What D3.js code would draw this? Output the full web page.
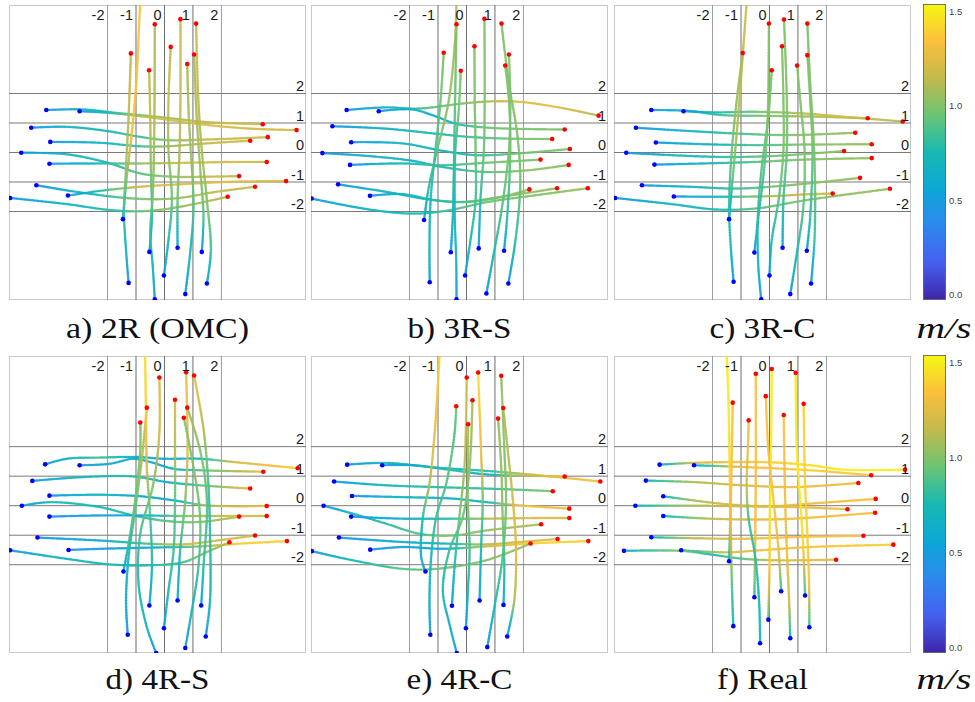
<!DOCTYPE html>
<html><head><meta charset="utf-8">
<script src="https://cdn.jsdelivr.net/npm/d3@7"></script>
<style>body{margin:0;background:#fff}svg{display:block}</style>
</head><body><svg id="chart" width="975" height="702"></svg>
<script>
// ---------------- data ----------------
const panelTitles = ["a) 2R (OMC)", "b) 3R-S", "c) 3R-C", "d) 4R-S", "e) 4R-C", "f) Real"];
const gridValues = [-2, -1, 0, 1, 2];
const colorTicks = [0.0, 0.5, 1.0, 1.5];
const unitLabel = "m/s";
// each trajectory: [x (m), y (m), speed (m/s)] waypoints, start -> end
const trajA = [
 [[-4.15,1.44,0.45],[-2.84,1.46,0.7],[-1.67,1.34,0.8],[-0.04,1.19,1.05],[1.49,1.03,1.15],[3.45,0.96,1.2]],
 [[-2.98,1.40,0.45],[-1.91,1.34,0.8],[-0.5,1.19,1.2],[1.25,0.96,1.25],[3.01,0.81,1.2],[4.64,0.76,1.2]],
 [[-4.68,0.84,0.45],[-3.43,0.87,0.7],[-2.02,0.73,0.75],[-0.85,0.53,0.85],[0.08,0.42,1.0],[1.49,0.44,1.15],[3.63,0.52,1.2]],
 [[-4.01,0.36,0.45],[-2.26,0.33,0.7],[-0.85,0.21,0.85],[0.08,0.21,1.05],[1.49,0.31,1.15],[3.01,0.40,1.2]],
 [[-5.03,-0.01,0.45],[-3.43,-0.06,0.7],[-1.91,-0.37,0.75],[-0.85,-0.71,0.9],[0.32,-0.82,1.05],[1.49,-0.82,1.15],[2.62,-0.80,1.15]],
 [[-4.04,-0.38,0.45],[-2.26,-0.37,0.75],[-0.85,-0.37,1.05],[0.67,-0.35,1.2],[2.42,-0.32,1.2],[3.59,-0.32,1.15]],
 [[-4.50,-1.11,0.45],[-2.84,-1.37,0.7],[-1.09,-1.56,0.95],[0.32,-1.56,1.05],[1.84,-1.33,1.15],[3.18,-1.16,1.15]],
 [[-3.39,-1.46,0.45],[-2.26,-1.30,0.8],[-0.85,-1.16,1.2],[0.67,-1.07,1.25],[2.42,-0.99,1.25],[4.27,-0.97,1.2]],
 [[-5.42,-1.54,0.45],[-3.43,-1.75,0.7],[-1.91,-1.95,0.8],[-0.74,-1.99,0.95],[0.43,-1.86,1.05],[2.22,-1.50,1.15]],
 [[-1.46,-2.26,0.5],[-1.35,-1.05,0.95],[-1.15,0.64,1.3],[-0.99,2.34,1.35],[-0.85,5.05,1.35],[-0.80,5.5,1.35]],
 [[-1.26,-4.42,0.45],[-1.35,-3.31,0.7],[-1.42,-2.07,0.85],[-1.35,-0.49,1.05],[-1.26,1.21,1.15],[-1.18,3.36,1.15]],
 [[-0.53,-3.37,0.45],[-0.44,-2.18,0.75],[-0.48,-0.49,1.0],[-0.5,1.21,1.15],[-0.54,2.79,1.15]],
 [[-0.34,-4.98,0.45],[-0.41,-3.88,0.7],[-0.5,-2.75,0.8],[-0.41,-1.39,1.0],[-0.36,0.64,1.1],[-0.34,4.35,1.1]],
 [[-0.02,-4.17,0.5],[0.14,-2.97,0.75],[0.26,-1.62,0.95],[0.14,0.08,1.05],[0.14,1.77,1.15],[0.22,3.58,1.15]],
 [[0.46,-3.23,0.6],[0.46,-1.62,0.95],[0.53,0.08,1.1],[0.56,1.77,1.15],[0.56,4.52,1.15]],
 [[0.73,-4.80,0.45],[0.90,-3.42,0.7],[1.02,-1.84,0.9],[0.92,0.08,1.05],[0.84,1.55,1.1],[0.80,3.0,1.1]],
 [[1.31,-3.37,0.5],[1.37,-2.18,0.9],[1.25,-0.49,1.05],[1.13,1.21,1.1],[1.04,3.32,1.1]],
 [[1.49,-4.44,0.45],[1.63,-3.31,0.85],[1.49,-1.62,1.0],[1.31,0.08,1.1],[1.19,1.77,1.15],[1.11,4.37,1.15]]
];
const trajB = [
 [[-4.21,1.44,0.45],[-2.84,1.53,0.7],[-1.67,1.49,0.85],[-0.15,1.66,1.0],[0.78,1.73,1.1],[1.84,1.72,1.25],[3.12,1.55,1.25],[4.64,1.25,1.1]],
 [[-3.08,1.40,0.45],[-1.91,1.46,0.7],[-1.09,1.23,0.6],[-0.39,0.98,0.75],[0.78,0.84,0.95],[3.45,0.78,1.0]],
 [[-4.71,0.89,0.45],[-2.84,0.81,0.7],[-1.09,0.64,0.75],[0.08,0.53,0.85],[1.49,0.47,0.95],[3.01,0.46,1.0]],
 [[-4.05,0.35,0.45],[-2.26,0.31,0.75],[-0.85,0.06,0.65],[0.32,-0.09,0.8],[1.84,-0.03,0.95],[3.63,0.12,1.0]],
 [[-5.06,-0.02,0.45],[-3.43,-0.12,0.7],[-1.91,-0.28,0.65],[-0.85,-0.49,0.75],[0.67,-0.66,0.9],[2.19,-0.60,1.05],[3.59,-0.42,1.0]],
 [[-4.09,-0.42,0.45],[-2.26,-0.37,0.75],[-0.85,-0.43,0.85],[0.67,-0.35,0.95],[2.60,-0.24,1.0]],
 [[-4.51,-1.08,0.45],[-2.84,-1.33,0.7],[-1.32,-1.59,0.75],[-0.15,-1.68,0.9],[1.25,-1.50,1.0],[3.18,-1.21,1.05]],
 [[-3.39,-1.47,0.45],[-2.26,-1.41,0.7],[-1.09,-1.62,0.8],[0.08,-1.67,0.9],[1.25,-1.50,1.0],[2.21,-1.25,1.05]],
 [[-5.44,-1.56,0.45],[-3.43,-1.93,0.7],[-1.91,-2.07,0.75],[-0.74,-1.98,0.85],[0.78,-1.67,0.95],[2.42,-1.45,1.0],[4.26,-1.21,1.05]],
 [[-1.49,-2.29,0.5],[-1.32,-1.16,0.8],[-1.03,0.08,0.95],[-0.62,1.77,1.05],[-0.39,4.0,1.1],[-0.35,5.4,1.1]],
 [[-1.29,-4.40,0.5],[-1.30,-3.31,0.7],[-1.26,-1.62,0.75],[-1.09,0.08,0.85],[-0.91,1.77,0.95],[-0.80,3.38,1.0]],
 [[-0.55,-3.38,0.5],[-0.48,-2.18,0.7],[-0.44,-0.49,0.75],[-0.41,1.21,0.9],[-0.35,4.35,1.0]],
 [[-0.35,-4.98,0.45],[-0.36,-3.65,0.7],[-0.41,-2.18,0.75],[-0.39,0.08,0.85],[-0.27,1.44,0.95],[-0.20,2.77,1.0]],
 [[-0.05,-4.17,0.5],[0.14,-2.97,0.75],[0.32,-1.62,0.85],[0.32,0.08,0.95],[0.29,1.77,1.0],[0.28,3.60,1.0]],
 [[0.43,-3.25,0.5],[0.49,-1.62,0.8],[0.61,0.08,0.95],[0.64,1.77,1.0],[0.63,4.53,1.0]],
 [[0.70,-4.78,0.45],[0.96,-3.42,0.75],[1.25,-1.84,0.9],[1.49,0.08,1.0],[1.54,1.77,1.0],[1.49,3.32,1.0]],
 [[1.32,-3.33,0.5],[1.43,-2.18,0.8],[1.54,0.08,0.95],[1.49,1.77,1.0],[1.36,2.95,1.0]],
 [[1.47,-4.44,0.45],[1.72,-2.97,0.8],[1.89,-1.05,0.95],[1.78,0.64,1.0],[1.49,2.34,1.0],[1.23,4.37,1.0]]
];
const trajC = [
 [[-4.15,1.44,0.45],[-2.84,1.41,0.7],[-1.67,1.27,0.85],[0.08,1.24,1.0],[1.84,1.21,1.1],[3.45,1.16,1.1]],
 [[-3.02,1.40,0.45],[-1.91,1.36,0.75],[-0.5,1.38,0.95],[1.25,1.32,1.15],[2.65,1.21,1.2],[4.68,1.05,1.1]],
 [[-4.69,0.84,0.45],[-2.84,0.73,0.7],[-1.09,0.64,0.85],[0.67,0.59,1.0],[3.01,0.67,1.05]],
 [[-3.99,0.34,0.45],[-2.26,0.28,0.7],[-0.5,0.25,0.85],[1.25,0.27,1.0],[3.59,0.28,1.05]],
 [[-5.03,-0.01,0.45],[-3.43,-0.09,0.7],[-1.67,-0.15,0.8],[0.08,-0.12,0.95],[2.62,0.05,1.05]],
 [[-4.04,-0.41,0.45],[-2.26,-0.37,0.7],[-0.5,-0.32,0.9],[1.25,-0.24,1.0],[3.59,-0.19,1.05]],
 [[-4.48,-1.11,0.45],[-2.84,-1.16,0.7],[-1.09,-1.22,0.85],[0.67,-1.11,1.0],[3.18,-0.86,1.05]],
 [[-3.36,-1.49,0.45],[-1.67,-1.50,0.75],[0.08,-1.48,1.1],[1.25,-1.42,1.2],[2.22,-1.39,1.15]],
 [[-5.42,-1.54,0.45],[-3.43,-1.75,0.7],[-1.91,-1.93,0.75],[-0.5,-1.90,0.9],[1.25,-1.62,1.0],[4.23,-1.23,1.05]],
 [[-1.42,-2.26,0.5],[-1.32,-1.16,0.85],[-1.15,0.64,1.1],[-0.97,2.90,1.15],[-0.80,5.05,1.2],[-0.76,5.4,1.2]],
 [[-1.26,-4.38,0.5],[-1.35,-3.31,0.7],[-1.42,-1.84,0.8],[-1.32,0.08,0.95],[-1.15,1.77,1.05],[-0.94,3.37,1.1]],
 [[-0.53,-3.39,0.5],[-0.39,-2.18,0.75],[-0.18,-0.49,0.9],[-0.06,1.21,1.0],[-0.02,4.37,1.0]],
 [[-0.29,-4.98,0.45],[-0.39,-3.88,0.7],[-0.41,-2.18,0.8],[-0.27,-0.49,0.9],[-0.04,1.21,1.0],[0.08,2.79,1.0]],
 [[0.0,-4.17,0.5],[0.08,-2.97,0.75],[0.32,-1.62,0.9],[0.49,0.08,1.0],[0.49,1.77,1.0],[0.44,3.60,1.0]],
 [[0.46,-3.23,0.55],[0.49,-1.62,0.85],[0.61,0.08,0.95],[0.61,1.77,1.0],[0.51,4.51,1.0]],
 [[0.73,-4.80,0.45],[0.96,-3.42,0.75],[1.19,-1.84,0.9],[1.23,0.08,1.0],[1.08,1.77,1.0],[0.97,2.95,1.0]],
 [[1.31,-3.33,0.5],[1.43,-2.18,0.8],[1.51,0.08,0.95],[1.43,1.77,1.0],[1.33,3.30,1.0]],
 [[1.46,-4.44,0.45],[1.58,-2.97,0.8],[1.60,-1.05,0.95],[1.54,0.64,1.0],[1.43,2.34,1.0],[1.33,4.37,1.0]]
];
const trajD = [
 [[-4.19,1.40,0.45],[-3.43,1.59,0.65],[-2.26,1.63,0.85],[-0.97,1.65,0.6],[-0.04,1.59,0.55],[1.25,1.59,0.65],[2.42,1.48,1.2],[4.68,1.27,1.4]],
 [[-2.98,1.37,0.45],[-1.91,1.42,0.6],[-1.09,1.59,0.6],[-0.50,1.48,0.55],[0.32,1.25,0.6],[1.25,1.20,0.9],[3.47,1.15,1.25]],
 [[-4.64,0.84,0.45],[-2.84,0.97,0.75],[-1.09,0.99,0.8],[0.08,0.80,0.6],[1.25,0.69,0.9],[3.01,0.58,1.25]],
 [[-4.04,0.34,0.45],[-2.26,0.37,0.7],[-0.85,0.32,0.55],[0.32,0.18,0.6],[1.49,0.01,1.1],[3.59,-0.01,1.3]],
 [[-5.01,0,0.45],[-4.01,0.12,0.75],[-2.26,-0.05,0.75],[-1.09,-0.33,0.8],[0.08,-0.52,0.9],[1.25,-0.55,1.0],[2.62,-0.37,1.15]],
 [[-4.04,-0.37,0.45],[-2.26,-0.33,0.55],[-0.85,-0.33,0.55],[0.67,-0.35,1.0],[2.42,-0.35,1.2],[3.59,-0.35,1.2]],
 [[-4.46,-1.08,0.45],[-2.26,-1.18,0.6],[-0.5,-1.29,0.9],[0.67,-1.31,1.2],[1.84,-1.18,1.2],[3.18,-1.01,1.2]],
 [[-3.37,-1.50,0.45],[-2.26,-1.46,0.5],[-0.5,-1.42,0.6],[1.25,-1.38,1.0],[2.57,-1.29,1.4],[4.30,-1.20,1.4]],
 [[-5.42,-1.51,0.45],[-3.43,-1.80,0.7],[-1.91,-1.99,0.75],[-0.5,-2.02,0.8],[0.67,-1.91,0.85],[1.49,-1.57,1.0],[2.28,-1.24,1.1]],
 [[-1.44,-2.23,0.5],[-1.26,-1.29,0.85],[-1.03,0.18,0.95],[-0.85,1.88,1.0],[-0.85,2.82,1.0]],
 [[-1.29,-4.37,0.45],[-1.35,-3.21,0.6],[-1.26,-1.74,0.75],[-1.03,-0.16,0.9],[-0.80,1.54,1.1],[-0.62,3.32,1.2]],
 [[-0.53,-3.38,0.5],[-0.44,-2.08,0.75],[-0.50,-0.38,0.85],[-0.62,1.31,1.2],[-0.65,3.23,1.4],[-0.68,5.04,1.45],[-0.69,5.5,1.45]],
 [[-0.29,-4.99,0.45],[-0.62,-4.11,0.7],[-0.91,-2.64,0.75],[-0.85,-0.95,0.85],[-0.39,0.75,1.0],[-0.18,2.44,1.2],[-0.18,4.34,1.25]],
 [[-0.02,-4.15,0.5],[0.14,-2.87,0.75],[0.32,-1.51,0.85],[0.37,0.18,0.9],[0.37,1.88,1.1],[0.37,3.59,1.2]],
 [[0.46,-3.21,0.55],[0.55,-1.51,0.8],[0.73,0.18,1.0],[0.81,1.88,1.25],[0.76,4.52,1.3]],
 [[0.73,-4.82,0.45],[0.96,-3.55,0.7],[1.19,-2.08,0.85],[1.25,-0.38,0.95],[1.02,1.31,1.0],[0.68,2.98,1.0]],
 [[1.29,-3.38,0.55],[1.37,-2.08,0.8],[1.49,0.18,0.9],[1.25,1.88,1.0],[0.80,3.32,1.1]],
 [[1.45,-4.43,0.45],[1.60,-3.21,0.75],[1.60,-0.95,0.8],[1.54,0.75,0.85],[1.37,2.61,1.1],[1.04,4.41,1.3]]
];
const trajE = [
 [[-4.19,1.39,0.45],[-2.82,1.45,0.7],[-1.06,1.29,0.75],[0.69,1.18,0.75],[2.21,1.06,1.2],[4.70,0.82,1.35]],
 [[-2.96,1.37,0.45],[-1.88,1.37,0.6],[-0.48,1.20,0.8],[0.69,1.06,0.6],[1.86,1.02,1.1],[3.45,0.99,1.3]],
 [[-4.65,0.82,0.45],[-2.82,0.69,0.75],[-1.06,0.63,0.8],[0.69,0.58,0.8],[1.86,0.54,0.9],[3.03,0.49,1.0]],
 [[-4.02,0.33,0.45],[-2.23,0.29,0.7],[-0.48,0.24,0.65],[0.69,0.12,0.7],[1.86,0.01,1.3],[3.61,-0.10,1.3]],
 [[-5.02,0,0.45],[-3.99,-0.27,0.7],[-2.82,-0.61,0.8],[-1.65,-0.95,0.9],[-0.48,-1.01,1.0],[0.69,-0.84,1.05],[2.62,-0.63,1.1]],
 [[-4.05,-0.37,0.45],[-2.23,-0.44,0.65],[-0.48,-0.44,0.8],[0.69,-0.44,1.1],[2.21,-0.42,1.25],[3.61,-0.42,1.2]],
 [[-4.48,-1.08,0.45],[-2.23,-1.23,0.6],[-0.48,-1.29,0.75],[0.69,-1.31,1.1],[1.86,-1.23,1.2],[3.20,-1.13,1.25]],
 [[-3.38,-1.49,0.45],[-2.23,-1.40,0.5],[-0.83,-1.46,0.55],[0.69,-1.38,1.2],[2.25,-1.28,1.4],[4.28,-1.20,1.4]],
 [[-5.43,-1.54,0.45],[-3.99,-1.85,0.75],[-2.23,-2.14,0.9],[-1.06,-2.14,0.95],[0.69,-1.85,1.0],[2.25,-1.28,1.05]],
 [[-1.44,-2.23,0.45],[-1.59,-1.74,0.6],[-1.53,-0.38,0.8],[-1.30,0.75,1.1],[-1.12,2.44,1.3],[-0.95,5.04,1.4],[-0.93,5.5,1.4]],
 [[-1.27,-4.37,0.45],[-1.30,-3.21,0.65],[-1.24,-1.74,0.75],[-1.06,-0.38,0.85],[-0.71,0.75,0.9],[-0.42,2.44,0.9],[-0.36,3.37,0.95]],
 [[-0.34,-4.99,0.5],[-0.60,-4.0,0.65],[-0.83,-2.87,0.75],[-0.60,-1.51,0.85],[-0.13,-0.38,0.95],[0.11,1.31,1.05],[0.21,3.57,1.1]],
 [[-0.51,-3.39,0.5],[-0.42,-2.08,0.75],[-0.25,-0.38,0.95],[-0.07,1.31,1.1],[0.01,4.34,1.25]],
 [[-0.02,-4.15,0.5],[0.05,-2.87,0.75],[0.11,-1.51,0.85],[0.05,0.18,1.0],[0.06,2.76,1.1]],
 [[0.46,-3.21,0.5],[0.51,-1.51,0.75],[0.57,0.18,0.95],[0.51,1.88,1.3],[0.41,4.51,1.45]],
 [[0.73,-4.79,0.45],[0.98,-3.44,0.75],[1.27,-1.74,0.9],[1.39,0.18,1.0],[1.33,1.88,1.0],[1.22,4.40,1.05]],
 [[1.30,-3.36,0.5],[1.33,-2.08,0.8],[1.27,-0.38,1.0],[1.22,1.31,1.05],[1.11,2.95,1.05]],
 [[1.43,-4.43,0.45],[1.68,-3.21,1.1],[1.74,-1.51,1.25],[1.63,0.18,1.2],[1.45,1.88,1.1],[1.29,3.31,1.1]]
];
const trajF = [
 [[-3.86,1.39,0.6],[-2.67,1.45,1.2],[-0.91,1.48,1.35],[0.26,1.46,1.4],[1.43,1.37,1.45],[2.60,1.22,1.5],[4.76,1.22,1.5]],
 [[-2.65,1.37,0.6],[-0.91,1.31,1.3],[1.43,1.20,1.4],[3.57,1.03,1.35]],
 [[-4.34,0.85,0.7],[-2.67,0.80,1.1],[-0.91,0.69,1.2],[0.84,0.63,1.3],[3.12,0.77,1.3]],
 [[-3.73,0.32,0.7],[-2.67,0.18,1.1],[-1.50,0.05,1.2],[0.02,-0.02,1.25],[1.43,0.07,1.3],[3.73,0.23,1.35]],
 [[-4.71,0,0.7],[-2.67,0,1.1],[-0.91,-0.02,1.2],[0.96,-0.05,1.25],[2.74,-0.12,1.3]],
 [[-3.73,-0.35,0.7],[-2.08,-0.44,1.15],[-0.33,-0.47,1.25],[0.84,-0.44,1.3],[3.71,-0.24,1.35]],
 [[-4.15,-1.07,0.7],[-2.67,-1.10,1.15],[-0.91,-1.12,1.3],[0.96,-1.06,1.35],[3.30,-1.02,1.35]],
 [[-3.10,-1.51,0.7],[-1.50,-1.58,1.2],[-0.33,-1.51,1.3],[1.43,-1.40,1.35],[4.35,-1.32,1.4]],
 [[-5.11,-1.53,0.7],[-3.10,-1.53,1.0],[-2.08,-1.65,0.75],[-0.91,-1.80,0.9],[0.26,-1.85,1.2],[2.34,-1.83,1.25]],
 [[-1.42,-1.88,0.7],[-1.38,-0.38,1.3],[-1.40,1.31,1.45],[-1.44,3.57,1.5],[-1.50,5.04,1.5],[-1.52,5.5,1.5]],
 [[-1.27,-4.08,0.7],[-1.32,-2.64,0.9],[-1.36,-0.38,1.3],[-1.32,1.88,1.35],[-1.29,3.49,1.35]],
 [[-0.53,-3.10,0.8],[-0.50,-1.05,1.3],[-0.48,1.31,1.35],[-0.48,4.47,1.35]],
 [[-0.33,-4.66,0.7],[-0.36,-3.32,0.75],[-0.50,-1.74,0.8],[-0.74,-0.38,0.85],[-0.80,0.75,1.2],[-0.76,1.88,1.3],[-0.73,2.89,1.3]],
 [[-0.04,-3.86,0.9],[0,-2.08,1.4],[0.02,0.18,1.5],[0.06,2.44,1.5],[0.08,4.63,1.5]],
 [[0.41,-2.90,0.8],[0.32,-1.51,1.3],[0.14,0.18,1.35],[-0.04,1.88,1.35],[-0.13,3.71,1.35]],
 [[0.73,-4.49,0.7],[0.69,-3.21,1.2],[0.61,-1.51,1.3],[0.55,0.18,1.3],[0.50,3.07,1.35]],
 [[1.25,-3.04,0.8],[1.19,-1.51,1.4],[1.08,0.18,1.5],[0.96,1.88,1.5],[0.92,4.50,1.5]],
 [[1.40,-4.12,0.8],[1.39,-2.64,1.35],[1.33,-0.95,1.4],[1.25,0.75,1.4],[1.20,3.45,1.4]]
];
const datasets = [trajA, trajB, trajC, trajD, trajE, trajF];

// colormap (parula-like) and speed range of the colorbar
const cmapStops = [0, 0.125, 0.25, 0.375, 0.5, 0.625, 0.75, 0.875, 1];
const cmapColors = ["#3e26a8", "#4560f0", "#2d88ee", "#0ca8d6", "#18b9b4", "#6cc474", "#c2ba4c", "#fbbf3c", "#f6f714"];
const speedDomain = [-0.03, 1.54];

// ---------------- layout ----------------
const svg = d3.select("#chart");
const colLeft = [9, 311, 614];
const rows = [{top: 5, h: 295, yd: [-5, 5], titleY: 338}, {top: 356, h: 297, yd: [-4.99, 5.07], titleY: 689}];
const PW = 297;
const xDomain = [-5.46, 4.97];
const titleWidths = [183, 104, 106, 104, 106, 91];

const cmap = d3.scaleLinear().domain(cmapStops).range(cmapColors).interpolate(d3.interpolateRgb).clamp(true);
const vNorm = d3.scaleLinear().domain(speedDomain).range([0, 1]).clamp(true);
const speedColor = v => cmap(vNorm(v));

const defs = svg.append("defs");

datasets.forEach((trajs, i) => {
  const col = i % 3, R = rows[Math.floor(i / 3)];
  const L = colLeft[col];
  const x = d3.scaleLinear().domain(xDomain).range([L, L + PW]);
  const y = d3.scaleLinear().domain(R.yd).range([R.top + R.h, R.top]);
  const g = svg.append("g");
  const clipId = "clip" + i;
  defs.append("clipPath").attr("id", clipId).append("rect")
    .attr("x", L).attr("y", R.top).attr("width", PW).attr("height", R.h);

  g.append("rect").attr("x", L + 0.5).attr("y", R.top + 0.5).attr("width", PW - 1).attr("height", R.h - 1)
    .attr("fill", "#fff").attr("stroke", "#c8c8c8");
  g.selectAll(".gv").data(gridValues).join("line")
    .attr("x1", d => x(d)).attr("x2", d => x(d)).attr("y1", R.top).attr("y2", R.top + R.h)
    .attr("stroke", d => Math.abs(d) === 2 ? "#9c9c9c" : "#6e6e6e").attr("stroke-width", 1);
  g.selectAll(".gh").data(gridValues).join("line")
    .attr("x1", L).attr("x2", L + PW).attr("y1", d => y(d)).attr("y2", d => y(d))
    .attr("stroke", "#7a7a7a").attr("stroke-width", 1);

  const tg = g.append("g").attr("clip-path", `url(#${clipId})`);
  const line = d3.line().x(d => x(d[0])).y(d => y(d[1])).curve(d3.curveCatmullRom.alpha(0.5));
  trajs.forEach(tr => {
    const p = tg.append("path").attr("d", line(tr)).attr("fill", "none");
    const node = p.node();
    const total = node.getTotalLength();
    const pts = tr.map(d => [x(d[0]), y(d[1])]);
    const cum = [0];
    for (let k = 1; k < pts.length; k++) cum.push(cum[k - 1] + Math.hypot(pts[k][0] - pts[k - 1][0], pts[k][1] - pts[k - 1][1]));
    const chordTotal = cum[cum.length - 1];
    const speedAt = d3.scaleLinear().domain(cum).range(tr.map(d => d[2]));
    const samples = d3.range(0, total, 1.5).concat([total]).map(l => {
      const q = node.getPointAtLength(l);
      return {x: q.x, y: q.y, v: speedAt(l / total * chordTotal)};
    });
    p.remove();
    tg.append("g").selectAll("circle").data(samples).join("circle")
      .attr("cx", d => d.x).attr("cy", d => d.y).attr("r", 1.2)
      .attr("fill", d => speedColor(d.v)).attr("fill-opacity", 0.9);
  });
  tg.selectAll(".st").data(trajs).join("circle")
    .attr("cx", d => x(d[0][0])).attr("cy", d => y(d[0][1])).attr("r", 2.3).attr("fill", "#0000ff");
  tg.selectAll(".en").data(trajs).join("circle")
    .attr("cx", d => x(d[d.length - 1][0])).attr("cy", d => y(d[d.length - 1][1])).attr("r", 2.3).attr("fill", "#ff0000");

  g.selectAll(".lx").data(gridValues).join("text")
    .attr("x", d => x(d) - 3).attr("y", R.top + 14.5).attr("text-anchor", "end")
    .attr("font-family", "Liberation Sans, Arial, sans-serif").attr("font-size", 14.5).attr("fill", "#1a1a1a")
    .text(d => d);
  g.selectAll(".ly").data(gridValues).join("text")
    .attr("x", L + PW - 2).attr("y", d => y(d) - 2.5).attr("text-anchor", "end")
    .attr("font-family", "Liberation Sans, Arial, sans-serif").attr("font-size", 14.5).attr("fill", "#1a1a1a")
    .text(d => d);

  svg.append("text").attr("x", L + PW / 2).attr("y", R.titleY).attr("text-anchor", "middle")
    .attr("font-family", "Liberation Serif, Times New Roman, serif").attr("font-size", 29).attr("fill", "#111")
    .attr("textLength", titleWidths[i]).attr("lengthAdjust", "spacingAndGlyphs")
    .text(panelTitles[i]);
});

const grad = defs.append("linearGradient").attr("id", "cbar").attr("x1", 0).attr("x2", 0).attr("y1", 1).attr("y2", 0);
d3.range(0, 1.0001, 0.02).forEach(t => {
  grad.append("stop").attr("offset", t).attr("stop-color", cmap(t));
});
rows.forEach(R => {
  const top = R.top - 1, bottom = R.top + R.h;
  const cy = d3.scaleLinear().domain(speedDomain).range([bottom, top]);
  svg.append("rect").attr("x", 923.5).attr("y", top + 0.5).attr("width", 22).attr("height", bottom - top - 1)
    .attr("fill", "url(#cbar)").attr("stroke", "#555").attr("stroke-width", 0.8);
  svg.selectAll(null).data(colorTicks).join("text")
    .attr("x", 949).attr("y", d => cy(d) + 3.5)
    .attr("font-family", "Liberation Sans, Arial, sans-serif").attr("font-size", 9.5).attr("fill", "#444")
    .text(d => d3.format(".1f")(d));
  svg.append("text").attr("x", 944).attr("y", R.titleY).attr("text-anchor", "middle")
    .attr("font-family", "Liberation Serif, Times New Roman, serif").attr("font-style", "italic")
    .attr("font-size", 30).attr("fill", "#111")
    .attr("textLength", 55).attr("lengthAdjust", "spacingAndGlyphs")
    .text(unitLabel);
});
</script>
</body></html>
